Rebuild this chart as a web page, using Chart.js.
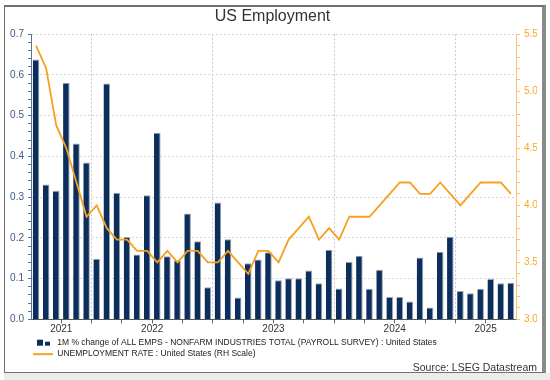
<!DOCTYPE html>
<html>
<head>
<meta charset="utf-8">
<script src="https://cdn.jsdelivr.net/npm/chart.js@4.4.1/dist/chart.umd.min.js"></script>
<style>
  html, body { margin: 0; padding: 0; background: #fff; }
  #frame { position: absolute; left: 4px; top: 5px; width: 537px; height: 365px;
           border: 1px solid #707070; border-top-width: 2px; border-right: 4px solid #8a8a8a; }
  #band { position: absolute; left: 4px; top: 373px; width: 546px; height: 7px; background: #ececec; }
  #chart { position: absolute; left: 0; top: 0; }
</style>
</head>
<body>
<div id="frame"></div>
<div id="band"></div>
<canvas id="chart" width="550" height="380"></canvas>
<script>
// months Jul 2021 .. Jun 2025
var months = [
    'Jul 2021', 'Aug 2021', 'Sep 2021', 'Oct 2021', 'Nov 2021', 'Dec 2021',
    'Jan 2022', 'Feb 2022', 'Mar 2022', 'Apr 2022', 'May 2022', 'Jun 2022',
    'Jul 2022', 'Aug 2022', 'Sep 2022', 'Oct 2022', 'Nov 2022', 'Dec 2022',
    'Jan 2023', 'Feb 2023', 'Mar 2023', 'Apr 2023', 'May 2023', 'Jun 2023',
    'Jul 2023', 'Aug 2023', 'Sep 2023', 'Oct 2023', 'Nov 2023', 'Dec 2023',
    'Jan 2024', 'Feb 2024', 'Mar 2024', 'Apr 2024', 'May 2024', 'Jun 2024',
    'Jul 2024', 'Aug 2024', 'Sep 2024', 'Oct 2024', 'Nov 2024', 'Dec 2024',
    'Jan 2025', 'Feb 2025', 'Mar 2025', 'Apr 2025', 'May 2025', 'Jun 2025'
];

// 1M % change of nonfarm payrolls
var payrollChange = [
    0.638, 0.331, 0.316, 0.581, 0.432, 0.385,
    0.149, 0.579, 0.311, 0.202, 0.159, 0.305, 0.458, 0.155, 0.145, 0.260, 0.192, 0.079,
    0.287, 0.197, 0.054, 0.138, 0.147, 0.165, 0.096, 0.101, 0.101, 0.120, 0.089, 0.171,
    0.076, 0.141, 0.156, 0.075, 0.122, 0.055, 0.055, 0.044, 0.152, 0.029, 0.166, 0.203,
    0.070, 0.064, 0.075, 0.099, 0.089, 0.090
];

// unemployment rate (RH scale)
var unemployment = [
    5.4, 5.2, 4.7, 4.5, 4.2, 3.9,
    4.0, 3.8, 3.7, 3.7, 3.6, 3.6, 3.5, 3.6, 3.5, 3.6, 3.6, 3.5,
    3.5, 3.6, 3.5, 3.4, 3.6, 3.6, 3.5, 3.7, 3.8, 3.9, 3.7, 3.8,
    3.7, 3.9, 3.9, 3.9, 4.0, 4.1, 4.2, 4.2, 4.1, 4.1, 4.2, 4.1,
    4.0, 4.1, 4.2, 4.2, 4.2, 4.1
];

// where the year labels sit on the x axis
var yearTicks = ['2021', '2022', '2023', '2024', '2025'];
var yearTickAt = ['Sep 2021', 'Jun 2022', 'Jun 2023', 'Jun 2024', 'Mar 2025'];

var navy = '#0b2e5c';
var orange = '#f7a01e';
var font = 'Liberation Sans, Arial, sans-serif';

// legend icons: two small squares for the bars, a short line for the rate
function barIcon() {
    var c = document.createElement('canvas');
    c.width = 42; c.height = 8;
    var g = c.getContext('2d');
    g.fillStyle = navy;
    g.fillRect(26, 1, 6, 6);
    g.fillRect(34, 3, 5, 4);
    return c;
}
function lineIcon() {
    var c = document.createElement('canvas');
    c.width = 42; c.height = 8;
    var g = c.getContext('2d');
    g.fillStyle = orange;
    g.fillRect(22, 3, 20, 2);
    return c;
}

function isMajor(v, step) {
    var r = v / step;
    return Math.abs(r - Math.round(r)) < 1e-6;
}

// grid line i sits on the left edge of month i (offset grid)
function monthAt(i) {
    if (typeof i !== 'number' || i <= 0 || i >= months.length) return '';
    return months[i].slice(0, 3);
}
function startsYear(i) {
    return monthAt(i) === 'Jan';
}
function startsQuarter(i) {
    var m = monthAt(i);
    return m === 'Jan' || m === 'Apr' || m === 'Jul' || m === 'Oct';
}

var ctx = document.getElementById('chart').getContext('2d');
var chart = new Chart(ctx, {
    type: 'bar',
    data: {
        labels: months,
        datasets: [
            {
                type: 'line',
                label: 'UNEMPLOYMENT RATE : United States (RH Scale)',
                data: unemployment,
                yAxisID: 'y2',
                borderColor: orange,
                borderWidth: 1.8,
                pointRadius: 0,
                tension: 0,
                order: 0
            },
            {
                label: '1M % change of ALL EMPS - NONFARM INDUSTRIES TOTAL (PAYROLL SURVEY) : United States',
                data: payrollChange,
                yAxisID: 'y',
                backgroundColor: navy,
                borderColor: '#9aa3ad',
                borderWidth: { top: 1, right: 1, left: 0, bottom: 0 },
                borderSkipped: false,
                barPercentage: 0.65,
                categoryPercentage: 1,
                order: 1
            }
        ]
    },
    options: {
        responsive: false,
        devicePixelRatio: 1,
        animation: false,
        layout: { padding: { left: 8, right: 13, top: 7, bottom: 6 } },
        plugins: {
            title: {
                display: true,
                text: 'US Employment',
                color: '#333',
                font: { family: font, size: 16, weight: 'normal' },
                padding: { top: 0, bottom: 8 }
            },
            subtitle: {
                display: true,
                text: 'Source: LSEG Datastream',
                position: 'bottom',
                align: 'end',
                color: '#333',
                font: { family: font, size: 10.5, weight: 'normal' },
                padding: 0
            },
            legend: {
                position: 'bottom',
                align: 'start',
                maxHeight: 26,
                reverse: true,
                labels: {
                    color: '#222',
                    font: { family: font, size: 8.5 },
                    usePointStyle: true,
                    pointStyleWidth: 42,
                    boxHeight: 8,
                    padding: 3,
                    generateLabels: function (c) {
                        return c.data.datasets.map(function (ds, i) {
                            return {
                                text: ds.label,
                                datasetIndex: i,
                                pointStyle: ds.type === 'line' ? lineIcon() : barIcon(),
                                fillStyle: 'transparent',
                                strokeStyle: 'transparent',
                                lineWidth: 0,
                                fontColor: '#222'
                            };
                        });
                    }
                }
            },
            tooltip: { enabled: false }
        },
        scales: {
            x: {
                grid: {
                    offset: true,
                    color: function (c) {
                        return startsYear(c.index) ? '#c8c8c8' : 'rgba(0,0,0,0)';
                    },
                    tickColor: function (c) {
                        return startsQuarter(c.index) ? '#666' : 'rgba(0,0,0,0)';
                    },
                    tickLength: 4
                },
                border: { color: '#555', dash: [2, 2] },
                ticks: {
                    autoSkip: false,
                    maxRotation: 0,
                    padding: 0,
                    labelOffset: 5,
                    color: '#333',
                    font: { family: font, size: 10 },
                    callback: function (v, i) {
                        var k = yearTickAt.indexOf(months[i]);
                        return k >= 0 ? yearTicks[k] : '';
                    }
                }
            },
            y: {
                position: 'left',
                min: 0,
                max: 0.7,
                afterFit: function (s) { s.width = 23; },
                grid: {
                    color: function (c) {
                        if (!c.tick || c.tick.value === 0) return 'rgba(0,0,0,0)';
                        return isMajor(c.tick.value, 0.1) ? '#d6d6d6' : 'rgba(0,0,0,0)';
                    },
                    tickColor: '#5a7391',
                    tickLength: 3
                },
                border: { color: '#5a7391', dash: [2, 2] },
                ticks: {
                    stepSize: 0.02,
                    autoSkip: false,
                    padding: 4,
                    color: '#3d5a80',
                    font: { family: font, size: 10 },
                    callback: function (v) {
                        return isMajor(v, 0.1) ? v.toFixed(1) : '';
                    }
                }
            },
            y2: {
                position: 'right',
                min: 3.0,
                max: 5.5,
                afterFit: function (s) { s.width = 21; },
                grid: {
                    drawOnChartArea: false,
                    tickColor: '#fbc070',
                    tickLength: 4
                },
                border: { color: '#fbc070' },
                ticks: {
                    stepSize: 0.1,
                    autoSkip: false,
                    padding: 4,
                    color: '#f7a825',
                    font: { family: font, size: 10 },
                    callback: function (v) {
                        return isMajor(v, 0.5) ? v.toFixed(1) : '';
                    }
                }
            }
        }
    }
});
</script>
</body>
</html>
